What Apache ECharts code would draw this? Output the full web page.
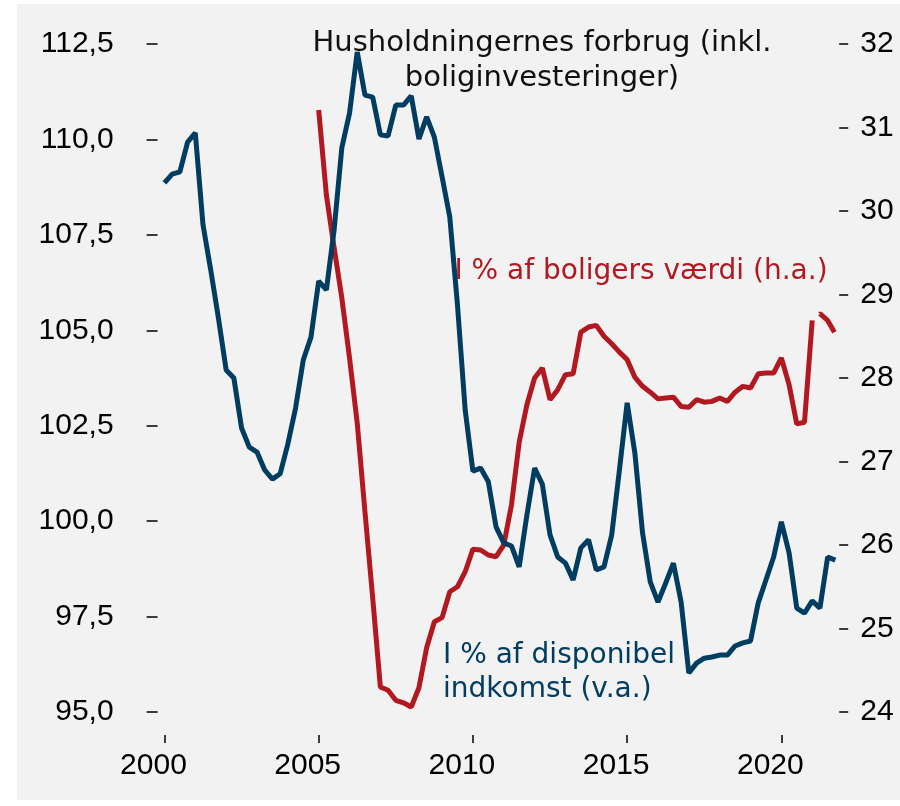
<!DOCTYPE html>
<html>
<head>
<meta charset="utf-8">
<script src="https://cdn.jsdelivr.net/npm/echarts@6/dist/echarts.min.js"></script>
<style>
  html, body { margin: 0; padding: 0; background: #fff; }
  #bg { position: absolute; left: 17px; top: 4px; width: 883px; height: 796px; background: #f2f2f2; }
  #chart { position: absolute; left: 0; top: 0; width: 900px; height: 806px; }
</style>
</head>
<body>
<div id="bg"></div>
<div id="chart"></div>
<script>
// kvartaler 2000K1 - 2021K4
const years = [2000, 2001, 2002, 2003, 2004, 2005, 2006, 2007, 2008, 2009, 2010,
  2011, 2012, 2013, 2014, 2015, 2016, 2017, 2018, 2019, 2020, 2021]
const quarters = []
years.forEach(y => { for (let q = 1; q <= 4; q++) quarters.push(y + 'K' + q) })

// I % af disponibel indkomst (v.a.)
const disponibel = [
  108.86, 109.09, 109.15, 109.93, 110.17, 107.76, 106.58, 105.32, 103.96, 103.75,
  102.44, 101.94, 101.81, 101.34, 101.10, 101.24, 102.02, 102.96, 104.22, 104.82,
  106.29, 106.06, 107.63, 109.78, 110.69, 112.29, 111.16, 111.11, 110.12, 110.09,
  110.90, 110.90, 111.14, 110.01, 110.59, 110.06, 109.02, 107.97, 105.66, 102.91,
  101.31, 101.39, 101.03, 99.85, 99.43, 99.35, 98.80, 100.16, 101.39, 100.97,
  99.64, 99.06, 98.90, 98.46, 99.30, 99.51, 98.72, 98.80, 99.64, 101.34,
  103.10, 101.79, 99.69, 98.41, 97.88, 98.38, 98.90, 97.88, 96.02, 96.28,
  96.41, 96.44, 96.49, 96.49, 96.73, 96.81, 96.86, 97.86, 98.46, 99.06,
  99.98, 99.17, 97.72, 97.59, 97.91, 97.72, 99.06, 98.98
]

// I % af boligers værdi (h.a.), fra 2005K1
const boligStart = '2005K1'
const boligVaerdi = [
  31.21, 30.19, 29.56, 28.96, 28.24, 27.46, 26.40, 25.37, 24.30, 24.26,
  24.14, 24.11, 24.06, 24.29, 24.77, 25.08, 25.13, 25.44, 25.50, 25.68,
  25.95, 25.94, 25.88, 25.86, 26.00, 26.48, 27.23, 27.68, 28.00, 28.12,
  27.74, 27.86, 28.04, 28.05, 28.55, 28.61, 28.63, 28.50, 28.41, 28.31,
  28.22, 28.01, 27.90, 27.83, 27.75, 27.76, 27.77, 27.66, 27.65, 27.74,
  27.71, 27.72, 27.76, 27.72, 27.83, 27.90, 27.88, 28.05, 28.06, 28.06,
  28.24, 27.92, 27.45, 27.47, 28.69, 28.77, 28.69, 28.53
]
const skoenStart = '2021K1' // stiplet fra her

const leftTicks = [95, 97.5, 100, 102.5, 105, 107.5, 110, 112.5]
const rightTicks = [24, 25, 26, 27, 28, 29, 30, 31, 32]
const xLabelYears = ['2000', '2005', '2010', '2015', '2020']

const blue = '#003d60'
const red = '#b2181f'
const axisFont = 'Liberation Sans, Arial, sans-serif'
const noteFont = 'DejaVu Sans, sans-serif'

const i0 = quarters.indexOf(boligStart)
const iDash = quarters.indexOf(skoenStart)
const boligFull = quarters.map((q, i) => (i >= i0 && i - i0 < boligVaerdi.length) ? boligVaerdi[i - i0] : null)
const boligSolid = boligFull.map((v, i) => i <= iDash ? v : null)
const boligDash = boligFull.map((v, i) => i >= iDash ? v : null)

const showLabel = (idx) => xLabelYears.includes(quarters[idx].slice(0, 4)) && quarters[idx].endsWith('K1')

const myChart = echarts.init(document.getElementById('chart'), null, { renderer: 'canvas' })
myChart.setOption({
  backgroundColor: 'transparent',
  animation: false,
  grid: { left: 160.6, right: 60.8, top: 44, bottom: 94 },
  xAxis: {
    type: 'category',
    data: quarters,
    boundaryGap: true,
    offset: 23,
    axisLine: { show: false },
    axisTick: { show: true, alignWithLabel: true, length: 8, interval: showLabel, lineStyle: { color: '#000', width: 1.5 } },
    axisLabel: {
      interval: showLabel,
      formatter: v => v.slice(0, 4),
      color: '#000', fontFamily: axisFont, fontSize: 30, margin: 16,
      padding: [0, 22, 0, 0]
    },
    splitLine: { show: false }
  },
  yAxis: [
    {
      type: 'value', min: leftTicks[0], max: leftTicks[leftTicks.length - 1], interval: 2.5,
      position: 'left', offset: 3,
      axisLine: { show: false },
      axisTick: { show: true, length: 11, lineStyle: { color: '#000', width: 1.5 } },
      axisLabel: { formatter: v => v.toFixed(1).replace('.', ','), color: '#000', fontFamily: axisFont, fontSize: 30, margin: 44 },
      splitLine: { show: false }
    },
    {
      type: 'value', min: rightTicks[0], max: rightTicks[rightTicks.length - 1], interval: 1,
      position: 'right',
      axisLine: { show: false },
      axisTick: { show: true, length: 9, lineStyle: { color: '#000', width: 1.5 } },
      axisLabel: { color: '#000', fontFamily: axisFont, fontSize: 30, margin: 21 },
      splitLine: { show: false }
    }
  ],
  series: [
    {
      name: 'I % af disponibel indkomst (v.a.)', type: 'line', yAxisIndex: 0,
      data: disponibel, symbol: 'none', lineStyle: { color: blue, width: 5 }, z: 3
    },
    {
      name: 'I % af boligers værdi (h.a.)', type: 'line', yAxisIndex: 1,
      data: boligSolid, symbol: 'none', lineStyle: { color: red, width: 5 }, z: 2
    },
    {
      name: 'skøn', type: 'line', yAxisIndex: 1,
      data: boligDash, symbol: 'none',
      lineStyle: { color: red, width: 5, type: [24, 10], dashOffset: 24 }, z: 2
    }
  ],
  graphic: [
    { type: 'text', style: { text: 'Husholdningernes forbrug (inkl.', x: 542, y: 43, textAlign: 'center', textVerticalAlign: 'middle', font: '29px ' + noteFont, fill: '#111' } },
    { type: 'text', style: { text: 'boliginvesteringer)', x: 542, y: 78, textAlign: 'center', textVerticalAlign: 'middle', font: '29px ' + noteFont, fill: '#111' } },
    { type: 'text', style: { text: 'I % af boligers værdi (h.a.)', x: 641, y: 272, textAlign: 'center', textVerticalAlign: 'middle', font: '28px ' + noteFont, fill: red } },
    { type: 'text', style: { text: 'I % af disponibel', x: 443, y: 656, textAlign: 'left', textVerticalAlign: 'middle', font: '28px ' + noteFont, fill: blue } },
    { type: 'text', style: { text: 'indkomst (v.a.)', x: 443, y: 690, textAlign: 'left', textVerticalAlign: 'middle', font: '28px ' + noteFont, fill: blue } }
  ]
})

window.addEventListener('resize', () => { myChart.resize() }, false)
</script>
</body>
</html>
